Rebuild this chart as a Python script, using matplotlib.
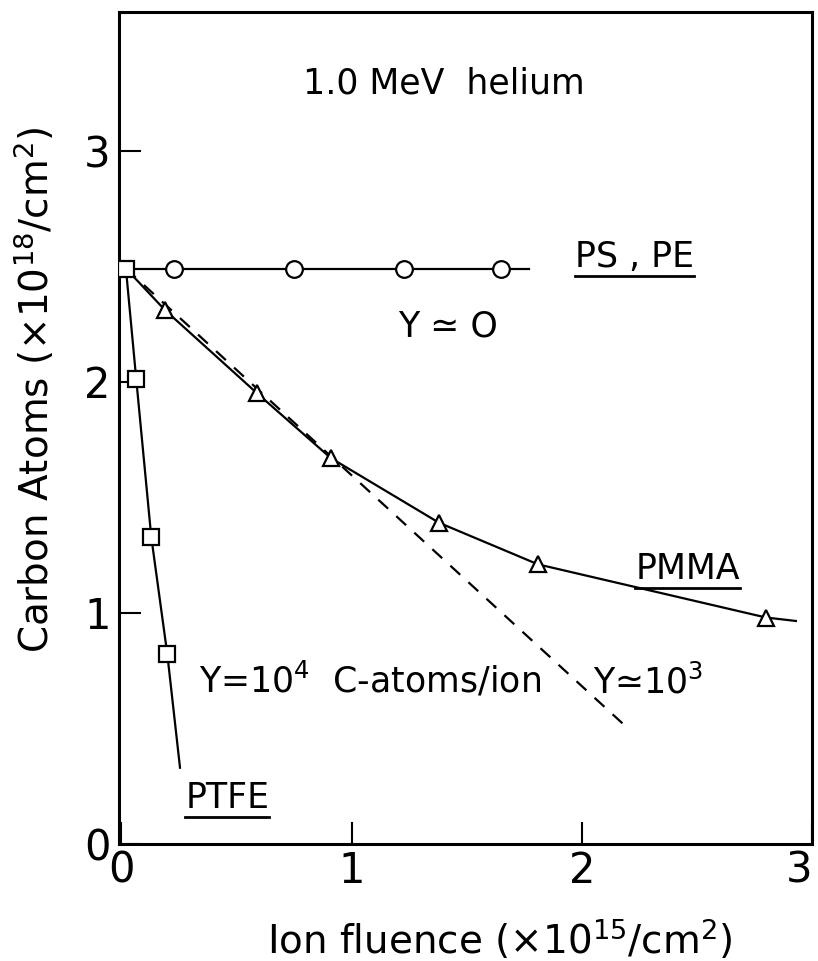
import matplotlib
matplotlib.use("Agg")
import matplotlib.pyplot as plt

plt.rcParams['font.family'] = ['DejaVu Sans']
plt.rcParams['mathtext.default'] = 'regular'

# PS, PE  (Y ~ 0): flat
ps_x = [0.23, 0.75, 1.23, 1.65]
ps_y = [2.49, 2.49, 2.49, 2.49]
ps_line_x = [0.02, 1.77]
ps_line_y = [2.49, 2.49]

# PTFE (Y = 1e4 C-atoms/ion)
ptfe_x = [0.02, 0.065, 0.13, 0.20]
ptfe_y = [2.49, 2.01, 1.33, 0.82]
ptfe_line_x = [0.02, 0.065, 0.13, 0.20, 0.255]
ptfe_line_y = [2.49, 2.01, 1.33, 0.82, 0.33]

# PMMA
pmma_x = [0.19, 0.59, 0.91, 1.38, 1.81, 2.80]
pmma_y = [2.31, 1.95, 1.67, 1.39, 1.21, 0.98]
pmma_line_x = [0.02, 0.19, 0.59, 0.91, 1.38, 1.81, 2.80, 2.93]
pmma_line_y = [2.49, 2.31, 1.95, 1.67, 1.39, 1.21, 0.98, 0.965]

# initial slope Y ~ 1e3
slope_x = [0.02, 2.19]
slope_y = [2.49, 0.51]

xticks = [0, 1, 2, 3]
yticks = [0, 1, 2, 3]

fig = plt.figure(figsize=(8.18, 9.61), dpi=100)
ax = fig.add_axes([119 / 818, 117 / 961, 693 / 818, 832 / 961])

lw = 1.6
ax.plot(ps_line_x, ps_line_y, color='black', lw=lw)
ax.plot(ptfe_line_x, ptfe_line_y, color='black', lw=lw)
ax.plot(pmma_line_x, pmma_line_y, color='black', lw=lw)
ax.plot(slope_x, slope_y, color='black', lw=lw, ls=(0, (6, 5)))

mk = dict(ls='none', color='black', mfc='white', mew=1.6, zorder=3)
ax.plot(ps_x, ps_y, marker='o', ms=12, **mk)
ax.plot(pmma_x, pmma_y, marker='^', ms=11, **mk)
ax.plot(ptfe_x, ptfe_y, marker='s', ms=11, **mk)

ax.set_xlim(-0.01, 3.0)
ax.set_ylim(0, 3.6)
ax.set_xticks(xticks)
ax.set_yticks(yticks)
ax.tick_params(direction='in', length=16, width=1.5, labelsize=30, pad=6)
ax.tick_params(axis='x', pad=4)
ax.get_xticklabels()[-1].set_horizontalalignment('right')
for s in ax.spines.values():
    s.set_linewidth(2.2)

ts = 25
ax.text(1.40, 3.29, '1.0 MeV  helium', fontsize=ts, ha='center', va='center')
ax.text(1.42, 2.24, 'Y ≃ O', fontsize=ts, ha='center', va='center')
ax.text(1.08, 0.71, 'Y=10$^4$  C-atoms/ion', fontsize=ts, ha='center', va='center')
ax.text(2.29, 0.70, 'Y≃10$^3$', fontsize=ts, ha='center', va='center')

labels = [ax.text(2.23, 2.54, 'PS , PE', fontsize=ts, ha='center', va='center'),
          ax.text(2.46, 1.19, 'PMMA', fontsize=ts, ha='center', va='center'),
          ax.text(0.46, 0.20, 'PTFE', fontsize=ts, ha='center', va='center')]

fig.text(500 / 818, 1 - 940 / 961, 'Ion fluence (×10$^{15}$/cm$^2$)', fontsize=28,
         ha='center', va='center')
fig.text(35 / 818, 1 - 390 / 961, 'Carbon Atoms (×10$^{18}$/cm$^2$)', fontsize=28,
         ha='center', va='center', rotation=90)

# underline the material names
fig.canvas.draw()
r = fig.canvas.get_renderer()
inv = ax.transData.inverted()
for t in labels:
    bb = t.get_window_extent(r)
    (x0, y0), (x1, _) = inv.transform([(bb.x0, bb.y0 - 2), (bb.x1, bb.y0 - 2)])
    ax.plot([x0, x1], [y0, y0], color='black', lw=2)

fig.savefig('out.png', dpi=100)
